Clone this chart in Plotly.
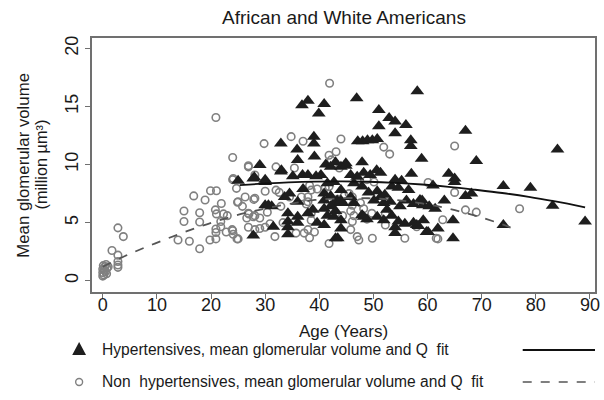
import plotly.graph_objects as go

# Hypertensive subjects: age (years) and mean glomerular volume (million µm³)
hyp_age = [36.8, 37.9, 40.9, 39.9, 46.9, 58.1, 51.0, 52.9, 54.0, 56.0, 51.0, 54.0, 56.9, 56.9, 67.0, 84.0,
           39.0, 39.0, 32.9, 35.9, 47.1, 48.0, 48.9, 49.8, 50.7,
           47.9, 44.9, 36.0, 39.1, 29.0, 33.0, 58.9, 69.0, 41.2, 42.1, 43.0, 44.0, 44.9,
           27.8, 30.0, 25.0, 28.0, 30.0, 35.1, 36.9, 37.9, 39.4, 40.3, 32.9,
           45.8, 47.0, 48.2, 49.4, 50.6, 51.3, 54.0, 55.2, 57.0, 63.9,
           41.5, 42.7, 46.4, 47.9, 53.4, 54.6, 61.0, 74.0, 79.0, 65.0, 65.0,
           30.0, 31.2, 33.6, 34.5, 36.0, 40.9, 42.1, 43.3, 44.3, 40.9, 42.7,
           40.9, 42.1, 43.0, 41.5, 42.7,
           45.8, 46.4, 44.0, 44.0, 49.1, 50.7, 51.3, 50.1, 51.9, 53.1, 54.9, 56.1, 57.4, 58.6, 59.1, 60.3,
           61.4, 59.0, 63.1, 67.0, 68.1, 83.1, 89.1,
           37.9, 38.8, 34.2, 34.2, 34.2, 34.2, 31.5, 27.8, 36.0, 36.0, 39.6, 40.9, 44.0, 44.0, 43.0,
           47.9, 48.8, 50.7, 51.9, 52.5, 53.4, 54.0, 54.0, 54.6, 55.8, 57.4, 58.0, 59.2, 59.8, 64.7, 64.7,
           60.1, 58.3, 74.0, 43.4, 48.2, 30.6, 37.0, 52.1, 56.5, 61.9]
hyp_vol = [15.1, 15.5, 15.2, 14.4, 15.7, 16.3, 14.7, 14.0, 13.7, 13.4, 13.3, 12.7, 12.1, 11.6, 12.9, 11.3,
           12.4, 11.8, 11.8, 11.3, 12.0, 12.0, 12.1, 12.1, 12.2,
           10.2, 10.1, 10.4, 10.7, 9.95, 9.5, 10.5, 10.3, 10.0, 9.8, 10.2, 9.8, 9.9,
           8.8, 8.7, 8.6, 8.9, 8.5, 9.0, 9.1, 9.1, 9.0, 9.1, 9.4,
           9.1, 8.95, 9.3, 9.1, 9.5, 9.3, 8.7, 8.6, 9.2, 9.2,
           8.4, 8.5, 8.4, 8.1, 8.1, 8.0, 8.2, 8.15, 8.0, 8.8, 8.5,
           6.5, 6.4, 7.2, 7.5, 6.8, 7.5, 7.3, 6.9, 6.7, 6.9, 6.7,
           6.2, 6.4, 6.0, 5.6, 5.5,
           7.2, 6.7, 7.8, 6.9, 7.6, 7.7, 7.2, 6.9, 6.7, 6.8, 6.4, 6.9, 6.6, 6.95, 6.5, 6.4,
           6.2, 6.9, 6.9, 7.3, 7.5, 6.45, 5.1,
           5.8, 6.1, 5.8, 5.1, 4.6, 4.0, 4.65, 3.9, 5.5, 5.0, 5.0, 4.8, 5.2, 4.5, 3.65,
           5.65, 5.3, 5.5, 5.2, 6.1, 5.6, 4.6, 4.1, 5.1, 4.9, 5.0, 4.8, 5.2, 4.2, 5.2, 3.65,
           4.2, 4.7, 4.8, 3.65, 5.5, 6.5, 7.9, 7.4, 7.8, 4.5]

# Non-hypertensive subjects
non_age = [0.0, 0.0, 0.1, 0.2, 0.3, 0.4, 0.5, 0.6, 0.8, 1.0, 0.0, 0.7,
           1.7, 2.8, 2.8, 2.8, 2.8, 2.8, 3.8,
           13.9, 15.0, 15.0, 16.0, 16.8, 17.9, 17.9, 17.9, 18.9, 19.8, 19.9, 20.9, 21.0, 20.8, 20.9,
           20.9, 20.9, 21.0, 21.8, 21.8, 21.9, 22.3, 22.8, 23.0, 24.0, 24.0, 24.0, 24.9, 24.8, 25.8,
           26.9, 26.9, 27.0, 27.9,
           24.1, 24.7, 26.3, 25.0, 28.1, 30.0, 32.0, 32.6, 32.9, 34.5, 37.9, 37.9,
           26.9, 28.1, 29.0, 26.6, 27.8, 30.9, 30.0, 29.0, 28.1, 23.9, 24.1, 25.0, 31.8, 35.7, 37.2,
           37.9, 38.2, 39.1, 41.8, 38.5, 38.5,
           29.8, 34.8, 37.0, 44.0, 41.9, 43.1, 41.8, 42.2, 43.7, 26.9, 28.1, 32.0, 35.4,
           51.9, 53.0, 65.0,
           38.2, 38.5, 39.6, 41.1, 41.8, 36.7, 37.6,
           43.4, 44.6, 45.5, 44.3, 45.8, 46.4, 45.8, 47.0, 47.3, 48.8, 49.7,
           46.1, 46.1, 46.1, 47.6, 48.2, 52.2, 52.2, 55.8, 58.0, 60.1, 61.6, 62.8, 61.9,
           65.0, 67.0, 69.0, 77.0, 47.0, 48.8, 50.1, 49.8, 33.3, 30.4]
non_vol = [0.7, 1.0, 1.3, 0.5, 0.9, 1.2, 0.8, 1.4, 1.1, 1.2, 0.4, 0.6,
           2.6, 2.2, 1.65, 1.35, 1.15, 4.55, 3.8,
           3.5, 5.1, 6.0, 3.4, 7.3, 2.75, 5.05, 5.85, 6.95, 3.5, 7.75, 14.05, 7.75, 6.1, 3.6,
           4.15, 4.45, 5.75, 4.65, 5.1, 6.65, 5.75, 4.2, 5.6, 4.3, 10.6, 8.7, 6.75, 3.6, 6.4,
           9.9, 4.6, 5.75, 7.0,
           8.8, 7.95, 7.2, 6.8, 7.1, 7.7, 7.8, 7.6, 6.4, 7.2, 7.2, 6.8,
           5.8, 5.6, 5.4, 5.4, 5.5, 4.9, 4.6, 4.5, 4.4, 4.4, 4.0, 3.6, 3.8, 4.1, 4.1,
           4.4, 3.7, 4.2, 3.2, 5.2, 5.8,
           11.8, 12.4, 12.0, 12.2, 17.0, 11.1, 10.8, 10.4, 9.7, 9.8, 9.1, 9.8, 9.7,
           11.5, 10.9, 11.6,
           8.2, 7.8, 7.9, 8.0, 8.1, 7.2, 6.6,
           7.0, 7.3, 7.5, 5.6, 6.0, 5.6, 4.4, 3.8, 3.5, 5.3, 5.8,
           7.2, 6.5, 5.1, 6.7, 6.2, 5.8, 4.8, 3.65, 4.65, 8.45, 3.65, 5.25, 3.6,
           7.6, 6.1, 5.9, 6.2, 8.6, 8.7, 8.5, 3.65, 5.0, 5.9]

# Quadratic fit curves, sampled along age
hyp_fit_age = [25.3, 29.4, 34.3, 39.2, 44.2, 49.1, 54.0, 59.0, 63.9, 68.8, 73.8, 78.7, 83.6, 89.1]
hyp_fit_vol = [8.22, 8.35, 8.46, 8.53, 8.55, 8.52, 8.43, 8.28, 8.08, 7.83, 7.55, 7.22, 6.82, 6.32]

non_fit_age = [0.0, 4.7, 9.6, 14.6, 19.5, 24.4, 29.4, 34.3, 39.2, 44.2, 49.1, 54.0, 59.0, 63.9, 68.8, 73.8, 76.5]
non_fit_vol = [1.2, 2.25, 3.2, 4.1, 4.9, 5.6, 6.15, 6.6, 6.95, 7.1, 7.1, 6.95, 6.65, 6.2, 5.6, 4.85, 4.35]

x_ticks = [0, 10, 20, 30, 40, 50, 60, 70, 80, 90]
y_ticks = [0, 5, 10, 15, 20]

AXIS_GREY = "#707070"
TEXT = "#1a1a1a"
FONT = "Liberation Sans, Arial, sans-serif"

fig = go.Figure()

fig.add_trace(go.Scatter(
    x=non_age, y=non_vol, mode="markers",
    marker=dict(symbol="circle-open", size=7.5, color="#808080", line=dict(width=1.6)),
    showlegend=False))

fig.add_trace(go.Scatter(
    x=hyp_age, y=hyp_vol, mode="markers",
    marker=dict(symbol="triangle-up", size=12, color="#1e1e1e", line=dict(width=0)),
    showlegend=False))

fig.add_trace(go.Scatter(
    x=non_fit_age, y=non_fit_vol, mode="lines", line_shape="spline",
    line=dict(color="#555555", width=1.8, dash="dash"), showlegend=False))

fig.add_trace(go.Scatter(
    x=hyp_fit_age, y=hyp_fit_vol, mode="lines", line_shape="spline",
    line=dict(color="#111111", width=1.8), showlegend=False))

# Plot area in pixels: left 92, right 600, top 38, bottom 292
PW, PH = 508.0, 254.0


def px_x(px):
    return (px - 92) / PW


def px_y(py):
    return (292 - py) / PH


shapes = []
# Legend row 1: filled triangle + solid line
tx, ty = 79, 349
shapes.append(dict(type="path", xref="paper", yref="paper",
                   path=f"M {px_x(tx-7)},{px_y(ty+6)} L {px_x(tx+7)},{px_y(ty+6)} L {px_x(tx)},{px_y(ty-7)} Z",
                   fillcolor="#1e1e1e", line=dict(width=0)))
shapes.append(dict(type="line", xref="paper", yref="paper",
                   x0=px_x(527), x1=px_x(600), y0=px_y(350), y1=px_y(350),
                   line=dict(color="#111111", width=1.8)))
# Legend row 2: open circle + dashed line
cx, cy = 79, 382
shapes.append(dict(type="circle", xref="paper", yref="paper",
                   x0=px_x(cx-3.5), x1=px_x(cx+3.5), y0=px_y(cy+3.5), y1=px_y(cy-3.5),
                   line=dict(color="#808080", width=1.4)))
shapes.append(dict(type="line", xref="paper", yref="paper",
                   x0=px_x(527), x1=px_x(600), y0=px_y(382), y1=px_y(382),
                   line=dict(color="#555555", width=1.6, dash="dash")))

annotations = [
    dict(text="Hypertensives, mean glomerular volume and Q  fit", xref="paper", yref="paper",
         x=px_x(100), y=px_y(349), xanchor="left", yanchor="middle", showarrow=False,
         font=dict(size=15.6, color=TEXT, family=FONT)),
    dict(text="Non  hypertensives, mean glomerular volume and Q  fit", xref="paper", yref="paper",
         x=px_x(100), y=px_y(381), xanchor="left", yanchor="middle", showarrow=False,
         font=dict(size=15.6, color=TEXT, family=FONT)),
    dict(text="Mean glomerular volume", xref="paper", yref="paper",
         x=px_x(22), y=px_y(165), xanchor="center", yanchor="middle", textangle=-90,
         showarrow=False, font=dict(size=16.8, color=TEXT, family=FONT)),
    dict(text="(million µm³)", xref="paper", yref="paper",
         x=px_x(40), y=px_y(165), xanchor="center", yanchor="middle", textangle=-90,
         showarrow=False, font=dict(size=16.3, color=TEXT, family=FONT)),
    dict(text="Age (Years)", xref="paper", yref="paper",
         x=px_x(346), y=px_y(331), xanchor="center", yanchor="middle",
         showarrow=False, font=dict(size=17, color=TEXT, family=FONT)),
    dict(text="African and White Americans", xref="paper", yref="paper",
         x=px_x(346), y=px_y(18), xanchor="center", yanchor="middle",
         showarrow=False, font=dict(size=19, color=TEXT, family=FONT)),
]

fig.update_layout(
    width=604, height=400,
    margin=dict(l=92, r=4, t=38, b=108),
    paper_bgcolor="white", plot_bgcolor="white",
    font=dict(family=FONT, size=14, color=TEXT),
    shapes=shapes, annotations=annotations,
    xaxis=dict(range=[-1.99, 90.93], tickvals=x_ticks,
               showgrid=False, zeroline=False, showline=True, mirror=True,
               linecolor=AXIS_GREY, linewidth=1.5, ticks="outside", ticklen=5,
               tickcolor=AXIS_GREY, tickfont=dict(size=18), ticklabelstandoff=-9),
    yaxis=dict(range=[-0.97, 20.89], tickvals=y_ticks,
               showgrid=False, zeroline=False, showline=True, mirror=True,
               linecolor=AXIS_GREY, linewidth=1.5, ticks="outside", ticklen=5,
               tickcolor=AXIS_GREY, tickangle=-90, tickfont=dict(size=18)),
)

fig.write_html("out.html")
